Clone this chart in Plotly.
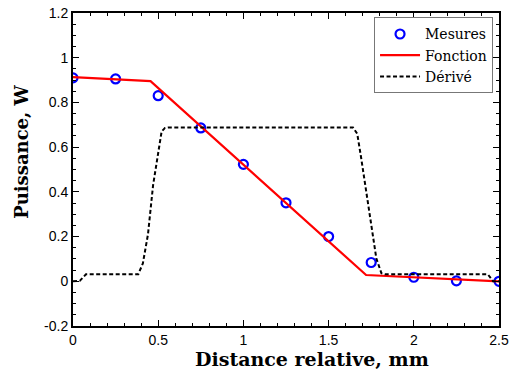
import plotly.graph_objects as go

# Mesures (measured points)
mes_x = [0, 0.25, 0.5, 0.75, 1.0, 1.25, 1.5, 1.75, 2.0, 2.25, 2.5]
mes_y = [0.91, 0.905, 0.83, 0.686, 0.523, 0.351, 0.2, 0.084, 0.018, 0.002, 0.0]

# Fonction (fitted piecewise curve)
fon_x = [0, 0.455, 1.72, 2.5]
fon_y = [0.913, 0.895, 0.028, 0.0]

# Dérivé
der_x = [0, 0.04, 0.076, 0.383, 0.41, 0.44, 0.47, 0.50, 0.52, 0.54, 0.56,
         1.643, 1.668, 1.69, 1.715, 1.75, 1.78, 1.81, 1.83, 2.435, 2.465, 2.5]
der_y = [0, 0.002, 0.031, 0.031, 0.08, 0.21, 0.43, 0.57, 0.67, 0.686, 0.688,
         0.688, 0.66, 0.557, 0.43, 0.237, 0.103, 0.036, 0.031, 0.031, 0.0, 0.0]

x_ticks = [0, 0.5, 1, 1.5, 2, 2.5]
x_ticklabels = ["0", "0.5", "1", "1.5", "2", "2.5"]
y_ticks = [-0.2, 0, 0.2, 0.4, 0.6, 0.8, 1, 1.2]
y_ticklabels = ["-0.2", "0", "0.2", "0.4", "0.6", "0.8", "1", "1.2"]

x_title = "Distance relative, mm"
y_title = "Puissance, W"

fig = go.Figure()
fig.add_trace(go.Scatter(x=mes_x, y=mes_y, mode="markers", name="Mesures",
                         marker=dict(symbol="circle-open", size=9, color="#0000ff",
                                     line=dict(width=2.2, color="#0000ff"))))
fig.add_trace(go.Scatter(x=fon_x, y=fon_y, mode="lines", name="Fonction",
                         line=dict(color="#ff0000", width=2.2)))
fig.add_trace(go.Scatter(x=der_x, y=der_y, mode="lines", name="Dérivé",
                         line=dict(color="black", width=2, dash="4px,2.5px")))

axis_common = dict(showline=True, linecolor="black", linewidth=2, mirror="allticks",
                   ticks="inside", ticklen=6, tickwidth=1.2, tickcolor="black",
                   showgrid=False, zeroline=False, ticklabeloverflow="allow",
                   automargin=False,
                   tickfont=dict(family="Liberation Sans", size=14, color="black"))

fig.update_xaxes(range=[0, 2.5], tickvals=x_ticks, ticktext=x_ticklabels,
                 minor=dict(dtick=0.1, ticks="inside", ticklen=3, tickcolor="black", tickwidth=1),
                 **axis_common)
fig.update_yaxes(range=[-0.2, 1.2], tickvals=y_ticks, ticktext=y_ticklabels,
                 minor=dict(dtick=0.05, ticks="inside", ticklen=3, tickcolor="black", tickwidth=1),
                 **axis_common)

fig.add_annotation(text="<b>" + x_title + "</b>", xref="paper", yref="paper",
                   x=0.561, y=-0.104, xanchor="center", yanchor="middle", showarrow=False,
                   font=dict(family="DejaVu Serif", size=19, color="black"))
fig.add_annotation(text="<b>" + y_title + "</b>", xref="paper", yref="paper",
                   x=-0.12, y=0.556, xanchor="center", yanchor="middle", showarrow=False,
                   textangle=-90,
                   font=dict(family="DejaVu Serif", size=18, color="black"))

fig.update_layout(width=517, height=370,
                  margin=dict(l=73, r=18, t=13, b=44, autoexpand=False),
                  plot_bgcolor="white", paper_bgcolor="white",
                  legend=dict(x=0.986, y=0.986, xanchor="right", yanchor="top",
                              bgcolor="white", bordercolor="#777777", borderwidth=1,
                              font=dict(family="DejaVu Serif", size=14, color="black"),
                              tracegroupgap=0, itemwidth=40),
                  showlegend=True)

page_fix = ("document.documentElement.style.margin='0px';"
            "document.documentElement.style.overflow='hidden';"
            "document.body.style.margin='0px';"
            "document.body.style.overflow='hidden';")
fig.write_html("out.html", config={"displayModeBar": False}, post_script=page_fix)
